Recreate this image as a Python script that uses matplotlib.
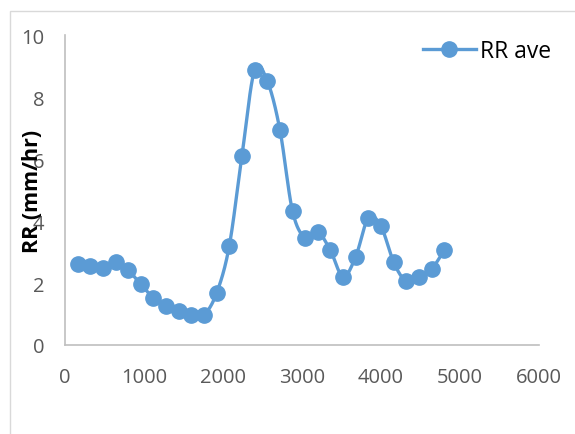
import numpy as np
import matplotlib.pyplot as plt
from matplotlib.patches import Rectangle

# distance (x) and average rain rate
dist = [160, 320, 480, 640, 800, 960, 1120, 1280, 1440, 1600,
        1760, 1920, 2080, 2240, 2400, 2560, 2720, 2880, 3040, 3200,
        3360, 3520, 3680, 3840, 4000, 4160, 4320, 4480, 4640, 4800]
rr_ave = [2.61, 2.54, 2.50, 2.67, 2.41, 1.96, 1.52, 1.27, 1.11, 0.98,
          0.98, 1.68, 3.20, 6.11, 8.87, 8.52, 6.95, 4.32, 3.46, 3.65,
          3.05, 2.20, 2.85, 4.10, 3.83, 2.67, 2.05, 2.18, 2.45, 3.05]

blue = '#5B9BD5'
plt.rcParams['font.family'] = ['Open Sans', 'DejaVu Sans']


def smooth(x, y, n=20):
    # catmull-rom curve through the points (like Excel's smoothed line)
    x = np.asarray(x, float)
    y = np.asarray(y, float)
    px = np.concatenate([[2 * x[0] - x[1]], x, [2 * x[-1] - x[-2]]])
    py = np.concatenate([[2 * y[0] - y[1]], y, [2 * y[-1] - y[-2]]])
    t = np.linspace(0, 1, n)
    xs, ys = [], []
    for i in range(1, len(px) - 2):
        for p, out in ((px, xs), (py, ys)):
            p0, p1, p2, p3 = p[i - 1], p[i], p[i + 1], p[i + 2]
            out.extend(0.5 * ((2 * p1) + (-p0 + p2) * t
                              + (2 * p0 - 5 * p1 + 4 * p2 - p3) * t ** 2
                              + (-p0 + 3 * p1 - 3 * p2 + p3) * t ** 3))
    return xs, ys


fig = plt.figure(figsize=(5.75, 4.35), dpi=100)
ax = fig.add_axes([0.113, 0.2046, 0.8244, 0.7126])

# chart area border
fig.patches.append(Rectangle((10 / 575, -0.5), 2, 0.5 + (1 - 12 / 435),
                             transform=fig.transFigure, fill=False,
                             edgecolor='#d9d9d9', lw=1))

sx, sy = smooth(dist, rr_ave)
ax.plot(sx, sy, color=blue, lw=2.4, solid_capstyle='round')
ax.plot(dist, rr_ave, 'o', color=blue, ms=11)
h, = ax.plot([], [], '-o', color=blue, lw=2.4, ms=11)

ax.set_xlim(0, 6000)
ax.set_ylim(0, 10)
ax.set_xticks(np.arange(0, 6001, 1000))
ax.set_yticks(np.arange(0, 11, 2))
for s in ['top', 'right']:
    ax.spines[s].set_visible(False)
for s in ['left', 'bottom']:
    ax.spines[s].set_color('#bfbfbf')
    ax.spines[s].set_linewidth(1.2)
ax.tick_params(length=0, labelsize=14.5, labelcolor='#595959')
ax.tick_params(axis='y', pad=15)
ax.tick_params(axis='x', pad=16)

ax.set_ylabel('RR (mm/hr)', fontsize=15.5, fontweight='bold', va='center')
ax.yaxis.set_label_coords(-0.068, 0.5)

fig.legend([h], ['RR ave'], loc='center left', bbox_to_anchor=(423 / 575, 1 - 52 / 435),
           frameon=False, fontsize=16.5, handlelength=2.3, handletextpad=0.2,
           borderaxespad=0, borderpad=0)

fig.savefig('out.png', dpi=100)
